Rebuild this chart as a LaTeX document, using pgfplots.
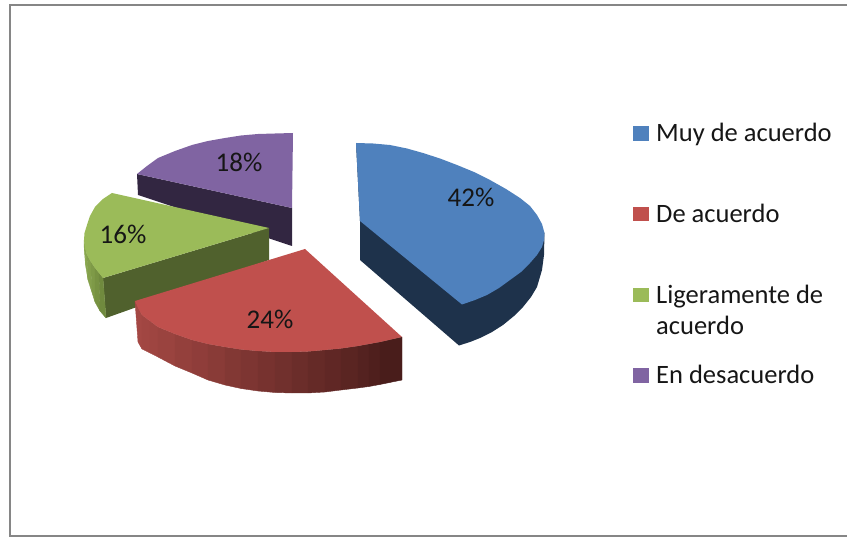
\documentclass[border=0pt]{standalone}
\usepackage{fontspec}
\setmainfont{Carlito}
\usepackage{pgfplots}
\pgfplotsset{compat=1.18}
\definecolor{blueTop}{RGB}{79,129,189}
\definecolor{blueSide}{RGB}{30,50,75}
\definecolor{redTop}{RGB}{192,80,77}
\definecolor{greenTop}{RGB}{155,187,89}
\definecolor{greenSide}{RGB}{80,97,45}
\definecolor{purpleTop}{RGB}{128,100,162}
\definecolor{purpleSide}{RGB}{50,38,65}
\definecolor{frameGray}{RGB}{134,134,134}
\definecolor{labelInk}{RGB}{22,22,22}
\pgfplotsset{
  colormap={redwall}{rgb255=(165,72,68) rgb255=(72,28,26)},
  colormap={greenwall}{rgb255=(140,170,80) rgb255=(112,138,62)},
  wall/.style={patch, patch type=rectangle, shader=faceted, faceted color=mapped color, line width=0.4pt, point meta=explicit},
  face/.style={draw=none, fill=#1, forget plot},
}
\newcommand{\lbl}{\fontsize{27}{27}\selectfont\color{labelInk}}
\newcommand{\keylbl}{\fontsize{26.5}{26.5}\selectfont\color{labelInk}}
\begin{document}
\begin{tikzpicture}
\useasboundingbox (0,0) rectangle (847pt,537pt);
\begin{axis}[
    scale only axis,
    width=847pt, height=537pt,
    xmin=0, xmax=847, ymin=0, ymax=537,
    y dir=reverse,
    hide axis,
    point meta min=0, point meta max=1,
]
% frame
\addplot[frameGray, line width=1.8pt, no markers] coordinates {(847,5) (10,5) (10,536) (847,536)};

% En desacuerdo
\addplot[face=purpleSide] coordinates {(137,174) (138,195) (292,246) (292,208)} -- cycle;
\addplot[face=purpleTop] coordinates {
  (293,133) (275,133.5) (258,134) (241,135.5) (225,138) (208,141) (192,145) (175,151)
  (158,158) (147,166) (137,174) (292,208)
} -- cycle;

% Ligeramente de acuerdo
\addplot[face=greenSide] coordinates {(269,228) (269,260) (106,318) (103,278)} -- cycle;
\addplot[wall, colormap name=greenwall] table[x=x, y=y, meta=c] {
x y c
84 240 0
85 248 0
85.5 265 0
84 245 0
85 248 0.1
87 255 0.1
88 280 0.1
85.5 265 0.1
87 255 0.3
91 262 0.3
91.5 291 0.3
88 280 0.3
91 262 0.5
95 268 0.5
95 302 0.5
91.5 291 0.5
95 268 0.75
99 273 0.75
100 311 0.75
95 302 0.75
99 273 1
103 278 1
106 318 1
100 311 1
};
\addplot[face=greenTop] coordinates {
  (112,193) (103,199) (95,207) (90,216) (87,225) (84.5,233) (84,240) (85,248) (87,255)
  (91,262) (95,268) (99,273) (103,278) (269,228)
} -- cycle;

% De acuerdo
\addplot[wall, colormap name=redwall] table[x=x, y=y, meta=c] {
x y c
135 301 0.01
142 315 0.01
142 349 0.01
138 342 0.01
142 315 0.04
150 321 0.04
150 353 0.04
142 349 0.04
150 321 0.07
158 327 0.07
158 357 0.07
150 353 0.07
158 327 0.12
175 334 0.12
175 366 0.12
158 357 0.12
175 334 0.18
192 340 0.18
192 373 0.18
175 366 0.18
192 340 0.24
208 344 0.24
208 380 0.24
192 373 0.24
208 344 0.30
225 347 0.30
225 385 0.30
208 380 0.30
225 347 0.37
241 349.5 0.37
241 388.5 0.37
225 385 0.37
241 349.5 0.43
258 351 0.43
258 391 0.43
241 388.5 0.43
258 351 0.49
275 352 0.49
275 392.5 0.49
258 391 0.49
275 352 0.55
292 352 0.55
292 393 0.55
275 392.5 0.55
292 352 0.62
308 351.5 0.62
308 393 0.62
292 393 0.62
308 351.5 0.68
325 350 0.68
325 392 0.68
308 393 0.68
325 350 0.74
341 348.5 0.74
341 390 0.74
325 392 0.74
341 348.5 0.80
358 346 0.80
358 388 0.80
341 390 0.80
358 346 0.86
369 344 0.86
369 386.5 0.86
358 388 0.86
369 344 0.92
380 342 0.92
380 384.5 0.92
369 386.5 0.92
380 342 0.98
402 337 0.98
402 380 0.98
380 384.5 0.98
};
\addplot[face=redTop] coordinates {
  (305,249) (135,301) (138,308) (142,315) (150,321) (158,327) (175,334) (192,340) (208,344)
  (225,347) (241,349.5) (258,351) (275,352) (292,352) (308,351.5) (325,350) (341,348.5)
  (358,346) (380,342) (402,337)
} -- cycle;

% Muy de acuerdo
\addplot[face=blueSide] coordinates {
  (356,143) (360,221) (360,260) (459,345.5) (470,342) (480,338) (492,332) (503,325) (514,316)
  (523,307) (531,297) (537,287) (542,270) (544,255) (544.5,233)
} -- cycle;
\addplot[face=blueTop] coordinates {
  (356,143) (373,143.5) (390,145) (407,148.5) (423,153) (440,158.5) (457,165) (474,172)
  (490,180) (506,189) (520,198) (530,206) (537,215) (542,224) (544.5,233) (544,240) (542,247)
  (537,255) (530,263) (521,272) (510,280) (499,288) (487,295) (475,300) (462,304.5) (360,221)
} -- cycle;

% legend keys
\addplot[face=blueTop] coordinates {(633,126) (649,126) (649,141) (633,141)} -- cycle;
\addplot[face=redTop] coordinates {(633,207) (649,207) (649,221) (633,221)} -- cycle;
\addplot[face=greenTop] coordinates {(633,288) (649,288) (649,302) (633,302)} -- cycle;
\addplot[face=purpleTop] coordinates {(633,368) (649,368) (649,383) (633,383)} -- cycle;

\node[font=\lbl, anchor=center] at (axis cs:471,197) {42\%};
\node[font=\lbl, anchor=center] at (axis cs:270,319) {24\%};
\node[font=\lbl, anchor=center] at (axis cs:123,234) {16\%};
\node[font=\lbl, anchor=center] at (axis cs:239,162) {18\%};

\node[font=\keylbl, anchor=base west, inner sep=0pt] at (axis cs:656,142) {Muy de acuerdo};
\node[font=\keylbl, anchor=base west, inner sep=0pt] at (axis cs:656,223) {De acuerdo};
\node[font=\keylbl, anchor=base west, inner sep=0pt] at (axis cs:656,304) {Ligeramente de};
\node[font=\keylbl, anchor=base west, inner sep=0pt] at (axis cs:656,335) {acuerdo};
\node[font=\keylbl, anchor=base west, inner sep=0pt] at (axis cs:656,384) {En desacuerdo};
\end{axis}
\end{tikzpicture}
\end{document}
